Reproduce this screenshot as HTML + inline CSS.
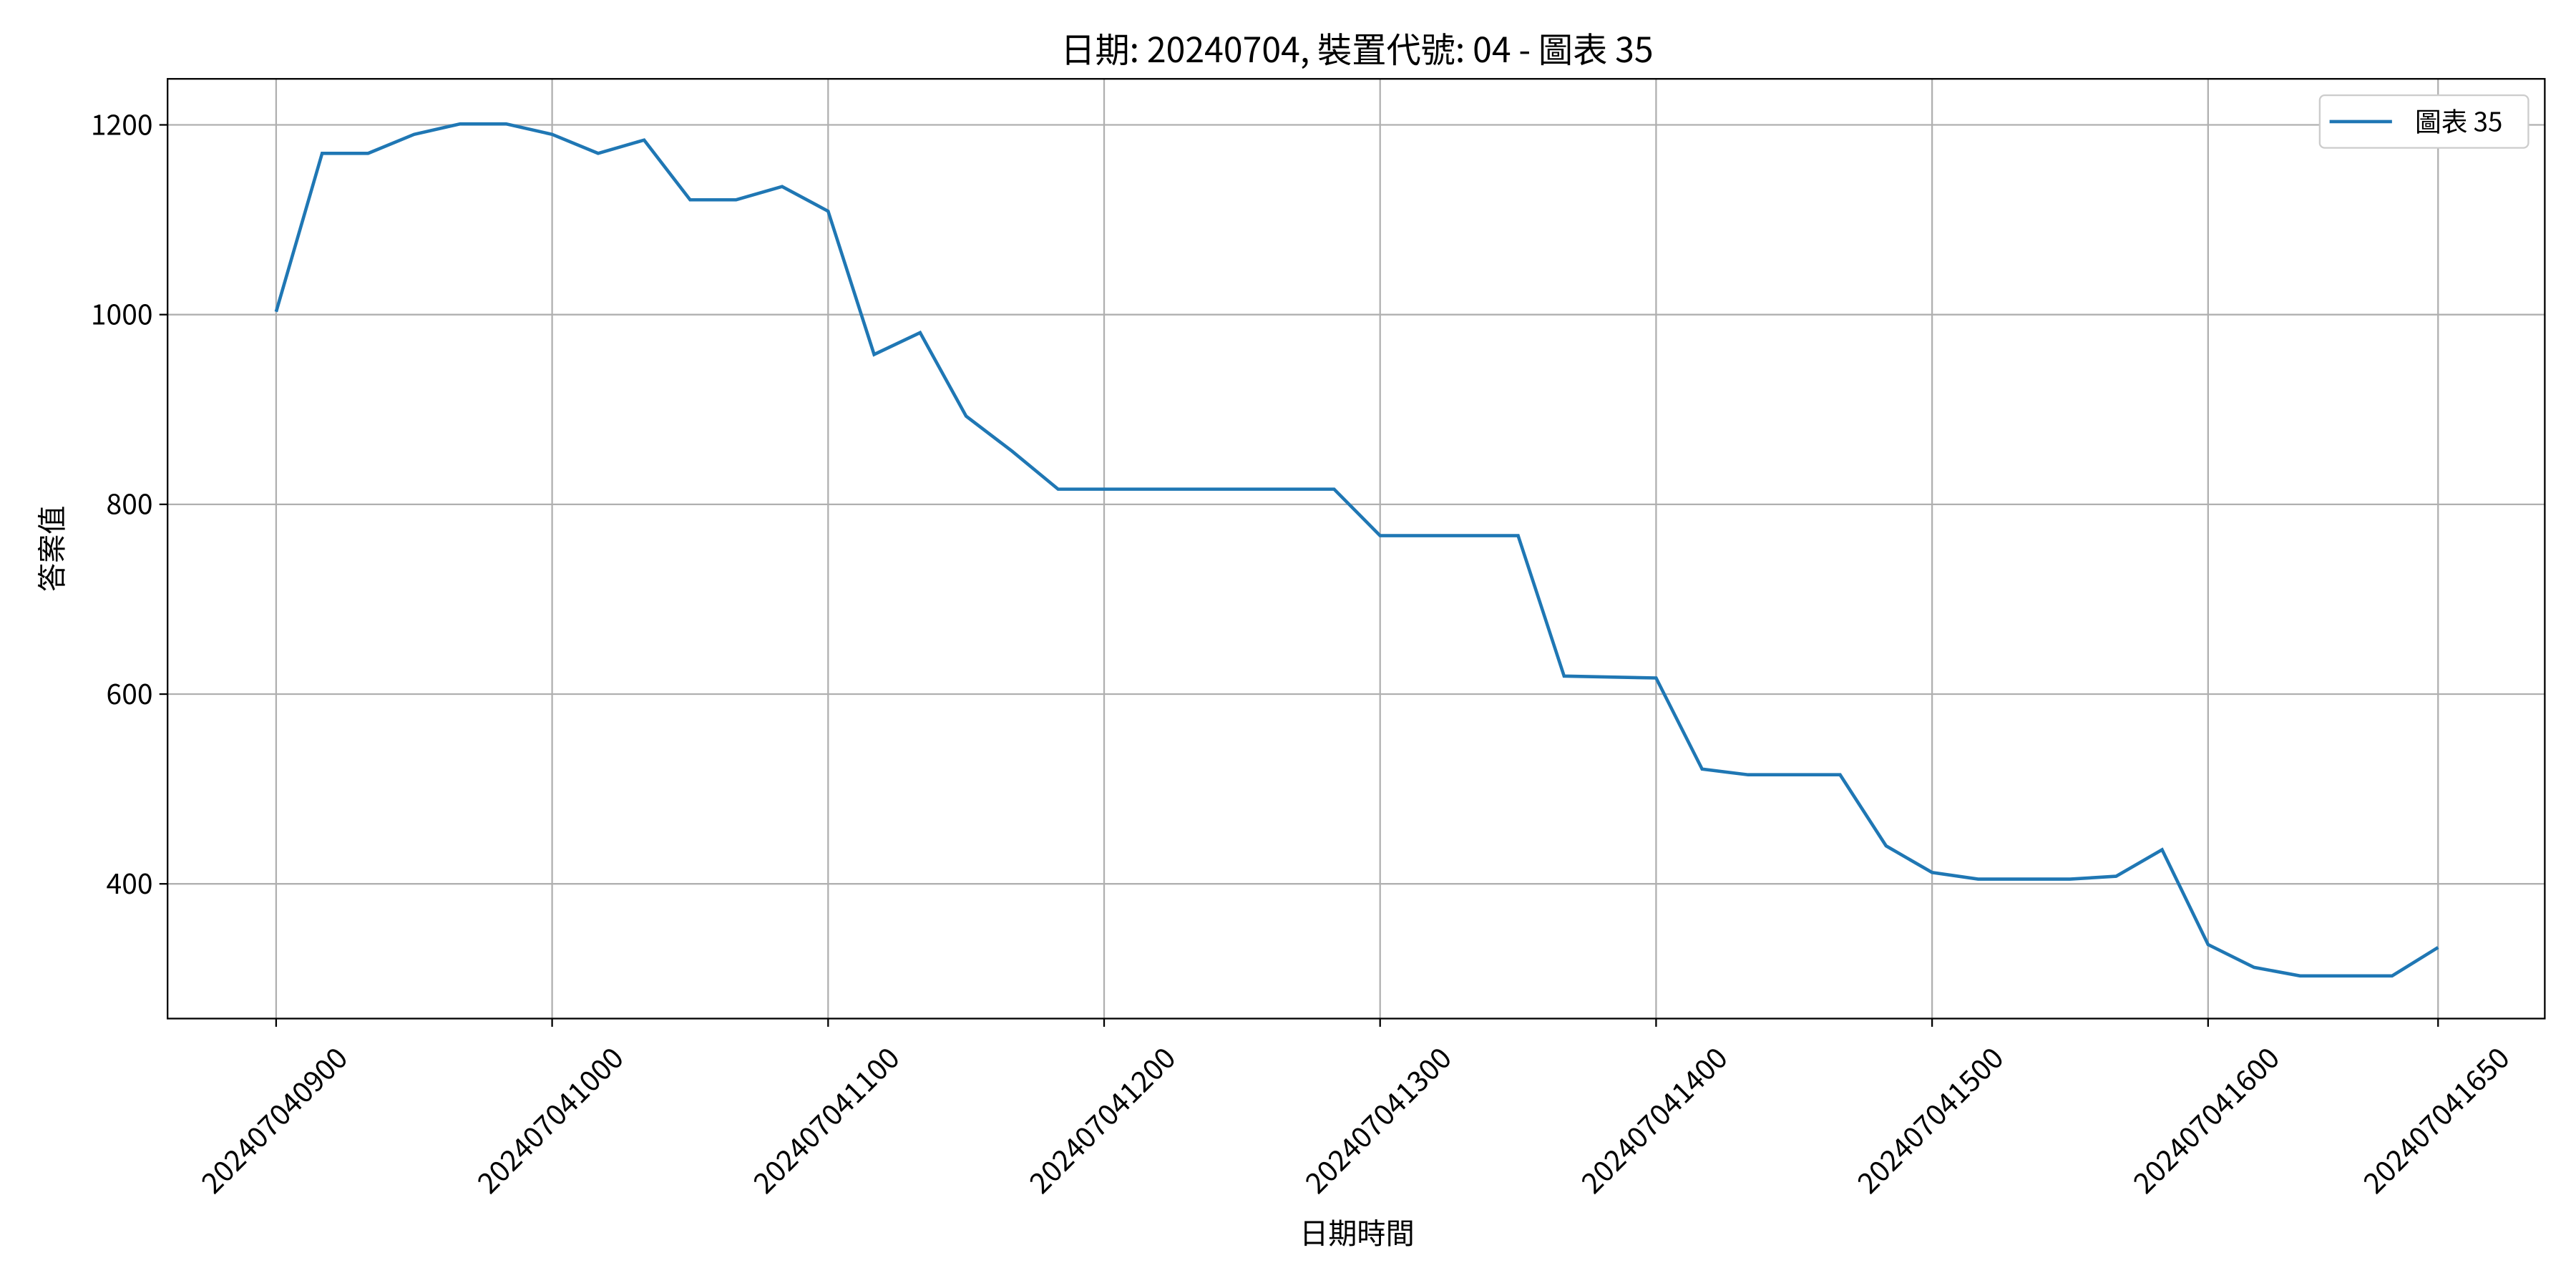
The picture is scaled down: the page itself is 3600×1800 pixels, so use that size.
<!DOCTYPE html>
<html><head><meta charset="utf-8"><style>
html,body{margin:0;padding:0;background:#fff;}
svg{display:block;font-family:"Noto Sans CJK TC","Liberation Sans",sans-serif;}
</style></head><body>
<svg id="chart" width="3600" height="1800" viewBox="0 0 1568 784" xmlns="http://www.w3.org/2000/svg">
<rect x="0" y="0" width="1568" height="784" fill="#fff"/>
<g id="grid"></g>
<g id="axes"></g>
<path id="line" fill="none" stroke="#1f77b4" stroke-width="2"/>
<rect x="102" y="48" width="1447" height="572" fill="none" stroke="#000" stroke-width="1"/>
<text x="826" y="38" text-anchor="middle" font-size="21">日期: 20240704, 裝置代號: 04 - 圖表 35</text>
<text x="826" y="757" text-anchor="middle" font-size="17.5">日期時間</text>
<text transform="translate(38,334) rotate(-90)" text-anchor="middle" font-size="17.5">答案值</text>
<g>
<rect x="1412" y="58" width="127" height="32" rx="3" fill="#fff" stroke="#ccc"/>
<line x1="1418" y1="74" x2="1456" y2="74" stroke="#1f77b4" stroke-width="2"/>
<text x="1470" y="80" font-size="16">圖表 35</text>
</g>
</svg>
<script>
const categories=["0900","0910","0920","0930","0940","0950","1000","1010","1020","1030","1040","1050","1100","1110","1120","1130","1140","1150","1200","1210","1220","1230","1240","1250","1300","1310","1320","1330","1340","1350","1400","1410","1420","1430","1440","1450","1500","1510","1520","1530","1540","1550","1600","1610","1620","1630","1640","1650"];
const values=[1003,1170,1170,1190,1201,1201,1190,1170,1184,1121,1121,1135,1109,958,981,893,856,816,816,816,816,816,816,816,767,767,767,767,619,618,617,521,515,515,515,440,412,405,405,405,408,436,336,312,303,303,303,333];
const yTicks=[400,600,800,1000,1200];
const xTickIdx=[0,6,12,18,24,30,36,42,47];
const NS="http://www.w3.org/2000/svg";
const L=102,R=1549,T=48,B=620;
const xmin=-2.36,xmax=49.32,ymin=258,ymax=1248.5;
function xs(i){return L+(i-xmin)/(xmax-xmin)*(R-L);}
function ys(v){return B-(v-ymin)/(ymax-ymin)*(B-T);}
const grid=document.getElementById('grid'),axes=document.getElementById('axes');
function mk(tag,attrs,parent){const e=document.createElementNS(NS,tag);for(const k in attrs)e.setAttribute(k,attrs[k]);parent.appendChild(e);return e;}
yTicks.forEach(v=>{
 const y=ys(v);
 const g=mk('line',{x1:L,x2:R,y1:y,y2:y,stroke:'#b0b0b0','stroke-width':1},grid);
 
 
 mk('line',{x1:L-5,x2:L,y1:y,y2:y,stroke:'#000'},axes);
 const t=mk('text',{x:L-9,y:y+6,'text-anchor':'end','font-size':17},axes);
 
 
 t.textContent=v;
});
xTickIdx.forEach(i=>{
 const x=xs(i);
 const g=mk('line',{x1:x,x2:x,y1:T,y2:B,stroke:'#b0b0b0','stroke-width':1},grid);
 
 
 mk('line',{x1:x,x2:x,y1:B,y2:B+5,stroke:'#000'},axes);
 const t=mk('text',{transform:'translate('+(x-2)+',681) rotate(-45)','text-anchor':'middle','dominant-baseline':'central','font-size':17.5},axes);
 
 
 t.textContent='20240704'+categories[i];
});
document.getElementById('line').setAttribute('d',values.map((v,i)=>(i?'L':'M')+xs(i).toFixed(2)+','+ys(v).toFixed(2)).join(' '));
</script>
</body></html>
